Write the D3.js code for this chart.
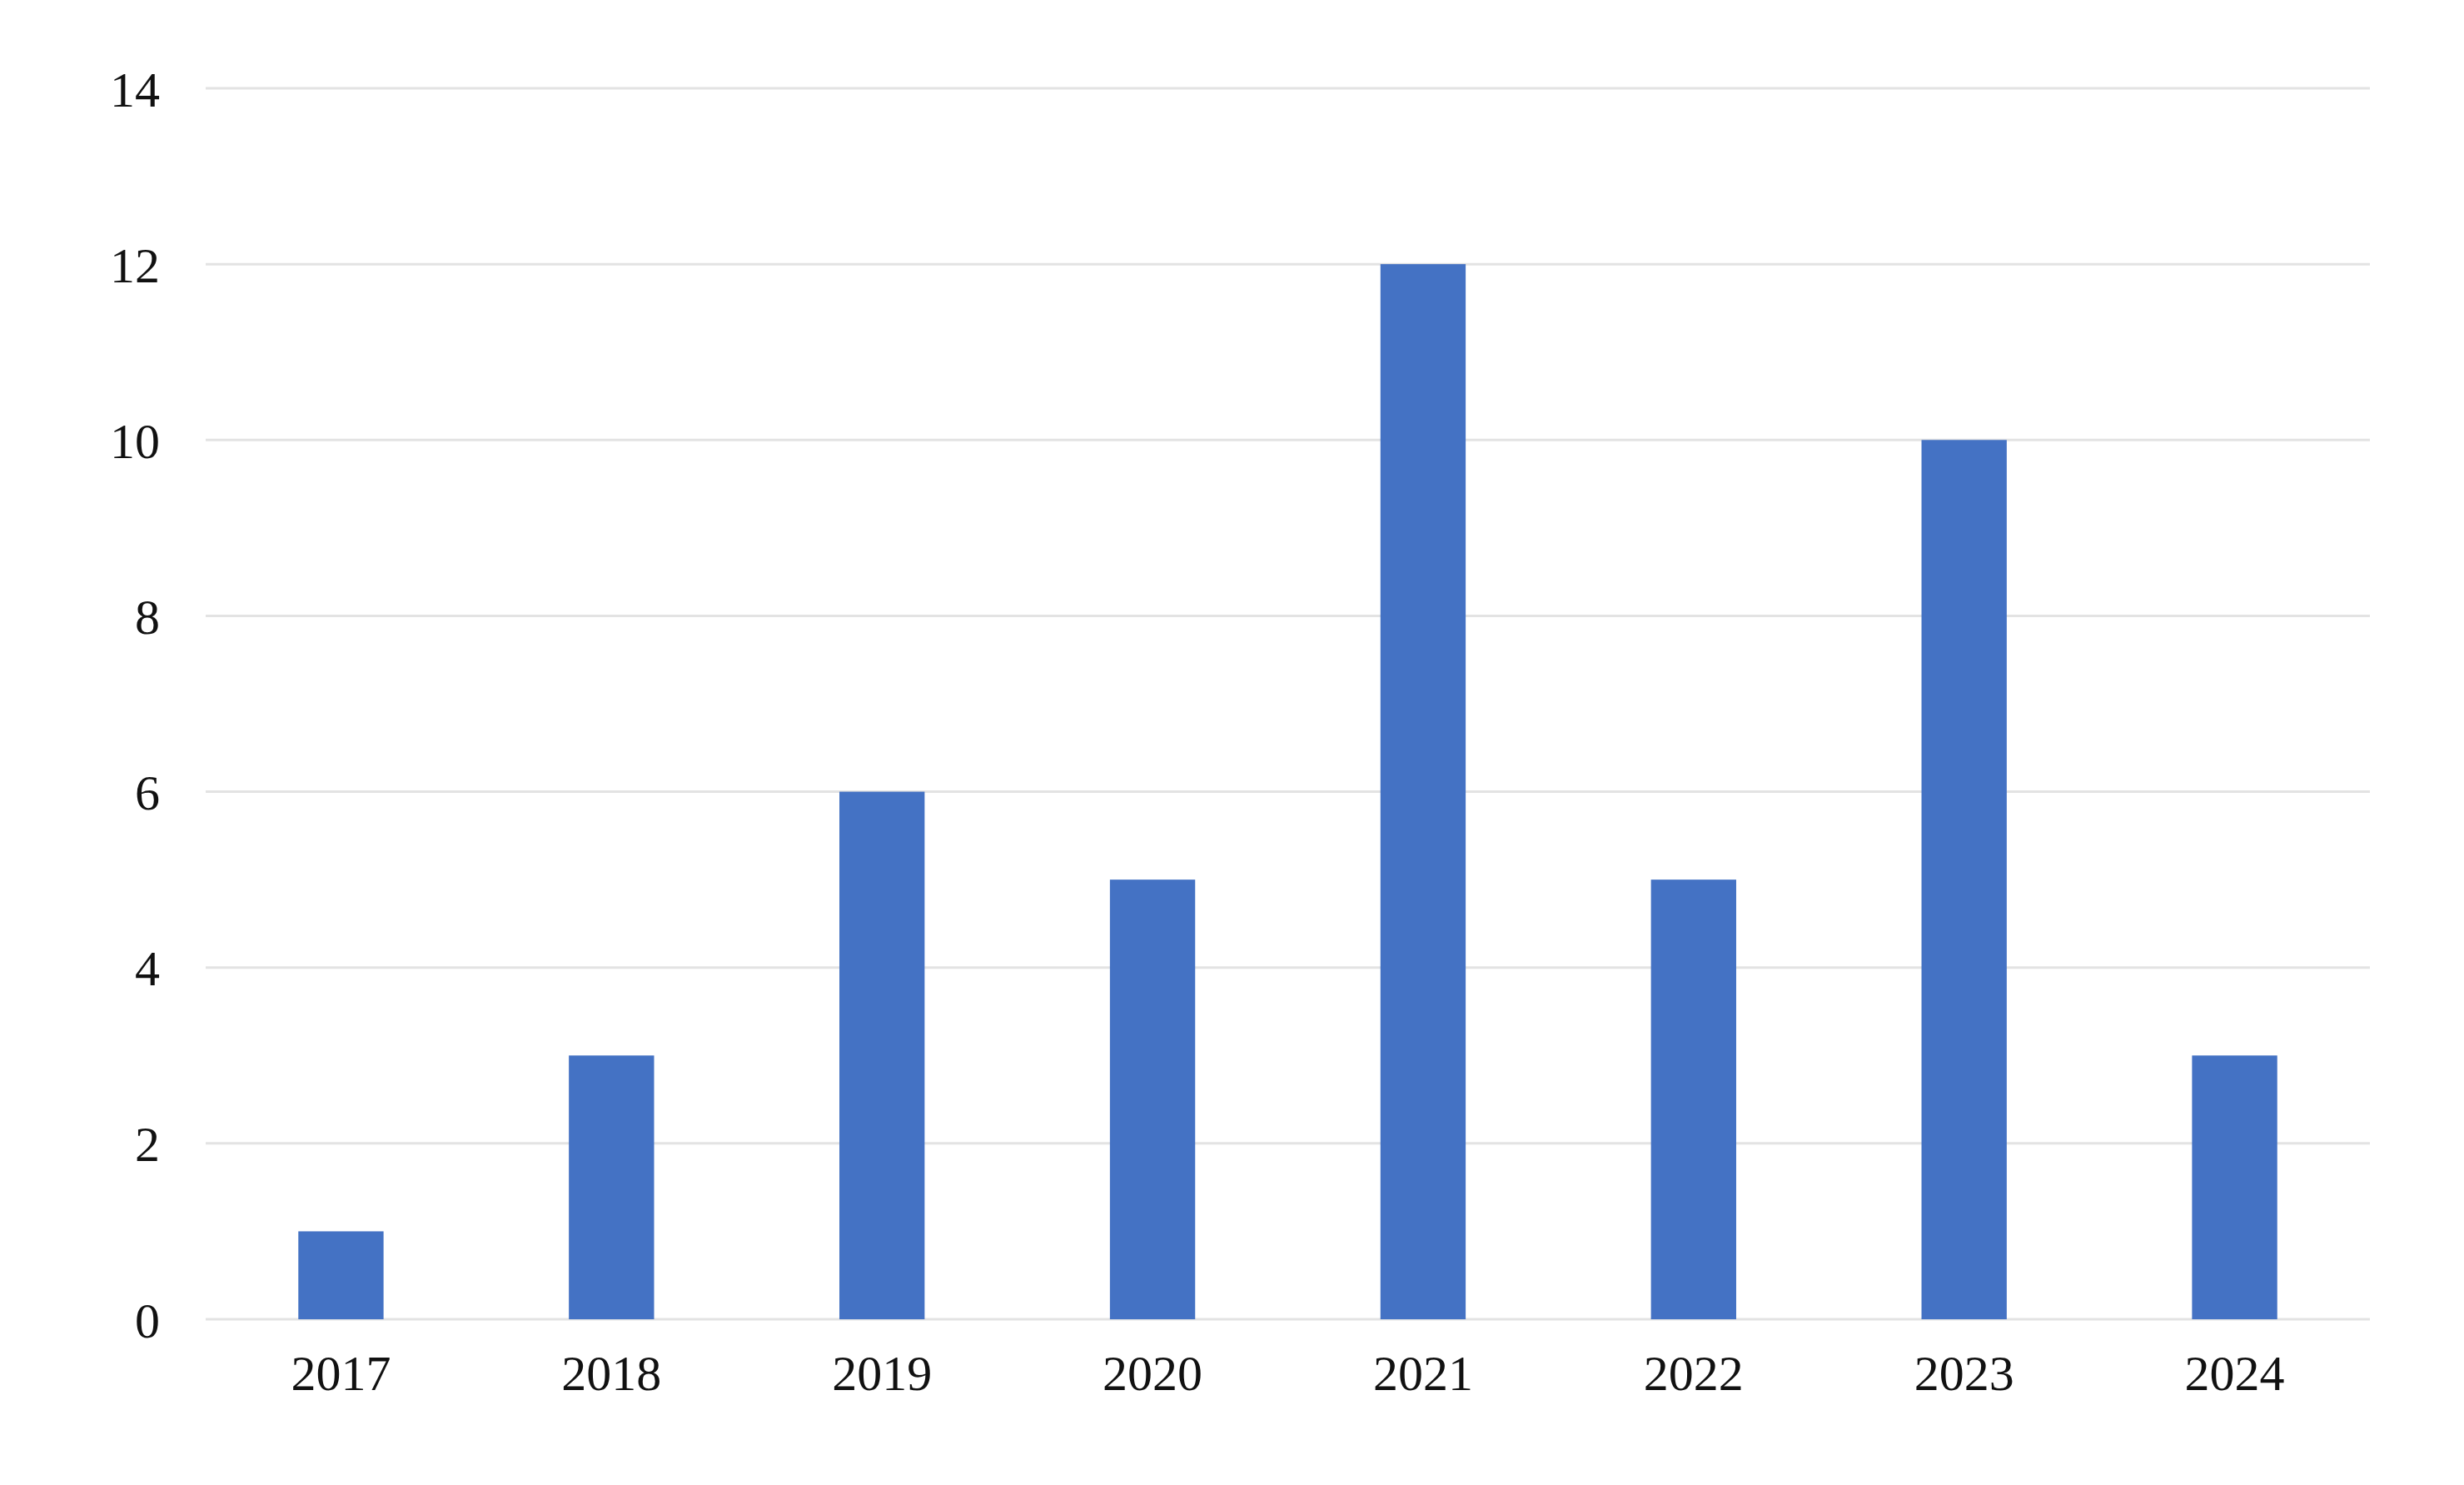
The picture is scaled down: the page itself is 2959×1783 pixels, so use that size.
<!DOCTYPE html>
<html><head><meta charset="utf-8">
<script src="https://cdn.jsdelivr.net/npm/d3@7"></script>
<style>body{margin:0;background:#fff}svg{display:block}</style>
</head><body>
<script>
const categories = ["2017","2018","2019","2020","2021","2022","2023","2024"];
const values = [1,3,6,5,12,5,10,3];
const yTicks = [0,2,4,6,8,10,12,14];

const W = 2959, H = 1783;
const L = 247, R = 2846, T = 106, B = 1584;
const svg = d3.select("body").append("svg").attr("width", W).attr("height", H);
const x = d3.scaleBand().domain(categories).range([L, R]).paddingInner(0.685).paddingOuter(0.3425);
const y = d3.scaleLinear().domain([0, 14]).range([B, T]);

svg.append("g").selectAll("line").data(yTicks).join("line")
  .attr("x1", L).attr("x2", R).attr("y1", d => y(d)).attr("y2", d => y(d))
  .attr("stroke", "#e3e3e3").attr("stroke-width", 3);

svg.append("g").selectAll("rect").data(values).join("rect")
  .attr("x", (d, i) => x(categories[i])).attr("width", x.bandwidth())
  .attr("y", d => y(d)).attr("height", d => y(0) - y(d))
  .attr("fill", "#4472c4");

const yAxis = svg.append("g").attr("transform", `translate(${L - 55},0)`)
  .call(d3.axisLeft(y).tickValues(yTicks).tickSize(0).tickPadding(0));
yAxis.select(".domain").remove();
yAxis.selectAll("text").attr("font-family", "Liberation Serif").attr("font-size", 60).attr("fill", "#111").attr("dy", "0.35em");

const xAxis = svg.append("g").attr("transform", `translate(0,${B + 42})`)
  .call(d3.axisBottom(x).tickSize(0).tickPadding(0));
xAxis.select(".domain").remove();
xAxis.selectAll("text").attr("font-family", "Liberation Serif").attr("font-size", 60).attr("fill", "#111").attr("dy", "0.71em");
</script>
</body></html>
